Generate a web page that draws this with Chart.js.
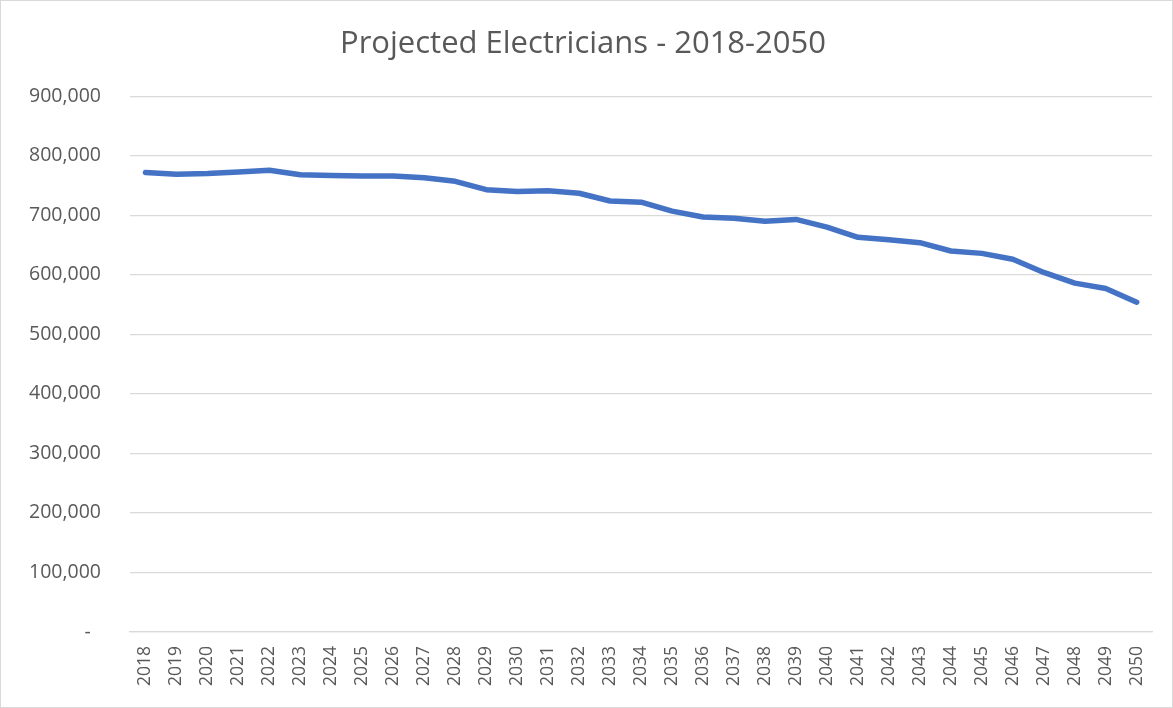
<!DOCTYPE html>
<html>
<head>
<meta charset="utf-8">
<script src="https://cdn.jsdelivr.net/npm/chart.js@4"></script>
<style>
    html, body { margin: 0; padding: 0; background: #ffffff; }
    .marco { width: 1171px; height: 706px; border: 1px solid #d9d9d9; }
</style>
</head>
<body>
<div class="marco"><canvas id="graficoElectricistas" width="1171" height="706"></canvas></div>
<script>

// Datos

const anios = [
    "2018","2019","2020","2021","2022","2023","2024","2025","2026","2027","2028",
    "2029","2030","2031","2032","2033","2034","2035","2036","2037","2038","2039",
    "2040","2041","2042","2043","2044","2045","2046","2047","2048","2049","2050"
];

const electricistas = [
    772000, 769000, 770000, 772500, 775500, 768000, 767000, 766000, 766000, 763000, 757000,
    743000, 740000, 741000, 737000, 724000, 722000, 707000, 697000, 695000, 690000, 693000,
    680000, 663000, 659000, 654000, 640000, 636000, 626000, 604000, 586000, 577000, 554000
];

const tituloGrafico = "Projected Electricians - 2018-2050";

const ejeY = { min: 0, max: 900000, paso: 100000 };

const gris = "#595959";
const fuente = "'Open Sans', 'Liberation Sans', sans-serif";

// Crear gráfico

const ctx = document.getElementById("graficoElectricistas");

new Chart(ctx,{

    type:"line",

    data:{
        labels:anios,
        datasets:[{
            label:"Electricians",
            data:electricistas,
            borderColor:"#4472c4",
            backgroundColor:"#4472c4",
            borderWidth:5.5,
            pointRadius:0,
            tension:0,
            borderCapStyle:"round",
            borderJoinStyle:"round"
        }]
    },

    options:{
        responsive:false,
        animation:false,
        layout:{
            padding:{ top:14, right:17, bottom:6, left:10 }
        },
        plugins:{
            legend:{ display:false },
            tooltip:{ enabled:false },
            title:{
                display:true,
                text:tituloGrafico,
                color:gris,
                font:{ family:fuente, size:31, weight:"normal" },
                padding:{ top:11, bottom:33 }
            }
        },
        scales:{
            y:{
                min:ejeY.min,
                max:ejeY.max,
                ticks:{
                    stepSize:ejeY.paso,
                    color:gris,
                    font:{ family:fuente, size:19.5 },
                    padding:29,
                    callback:function(v){
                        return v === 0 ? "-  " : v.toLocaleString("en-US");
                    }
                },
                grid:{ color:"#d9d9d9", lineWidth:1.3, drawTicks:false },
                border:{ display:false },
                afterFit:function(escala){ escala.width = 119; }
            },
            x:{
                offset:true,
                ticks:{
                    color:gris,
                    font:{ family:fuente, size:17.5 },
                    minRotation:90,
                    maxRotation:90,
                    padding:14,
                    autoSkip:false
                },
                grid:{ display:false, drawTicks:false, offset:true },
                border:{ display:true, color:"#d9d9d9", width:1.3 },
                afterFit:function(escala){ escala.height = 69; }
            }
        }
    }

});

</script>
</body>
</html>
